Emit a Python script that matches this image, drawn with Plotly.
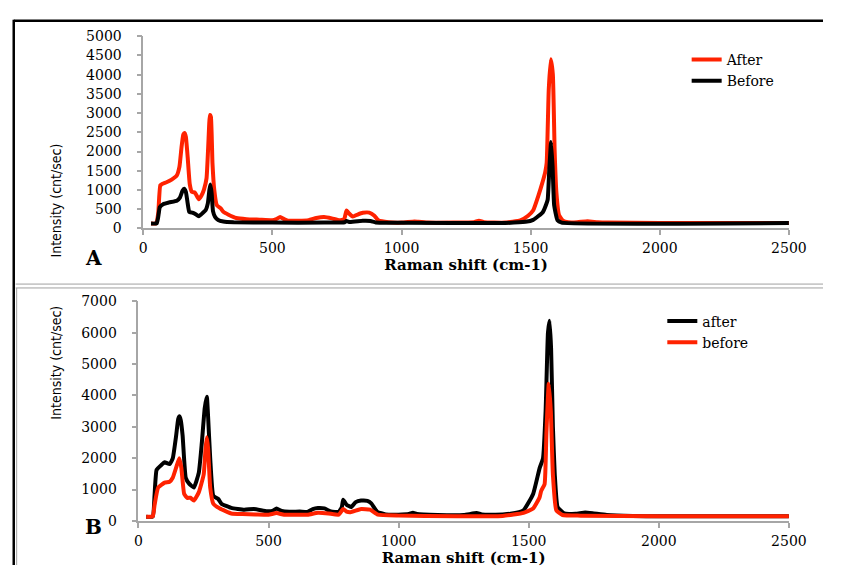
import plotly.graph_objects as go

# ---------------- Data ----------------
# Panel A
a_after_x = [30, 50, 58, 66, 75, 90, 110, 130, 140, 148, 155, 160, 165, 172, 180, 188, 200, 215, 225, 235, 245,
             252, 258, 262, 268, 275, 285, 300, 310, 330, 360, 400, 450, 500, 515, 530, 545, 560, 600, 640, 670,
             700, 730, 760, 778, 787, 795, 812, 830, 850, 875, 895, 910, 950, 1000, 1050, 1065, 1100, 1200, 1280,
             1300, 1320, 1400, 1460, 1490, 1510, 1530, 1547, 1556, 1562, 1570, 1578, 1586, 1593, 1600, 1610, 1625,
             1645, 1680, 1720, 1760, 1800, 2000, 2200, 2500]
a_after_y = [125, 130, 400, 1120, 1160, 1200, 1270, 1380, 1600, 2100, 2440, 2480, 2380, 1850, 1150, 950, 930, 760, 850,
             1010, 1300, 2200, 2950, 2900, 1700, 1000, 600, 520, 430, 355, 270, 240, 225, 210, 240, 295, 240, 200, 200,
             215, 270, 295, 260, 210, 240, 465, 400, 310, 360, 405, 410, 330, 210, 160, 150, 180, 170, 150, 150, 160,
             200, 160, 150, 210, 330, 470, 850, 1225, 1450, 1700, 3600, 4400, 4000, 2000, 900, 340, 200,
             160, 160, 185, 160, 150, 140, 140, 140]

a_before_x = [30, 52, 58, 64, 77, 100, 130, 142, 152, 158, 165, 172, 178, 190, 200, 215, 230, 242, 250, 256, 260, 265,
              270, 278, 290, 310, 350, 500, 700, 780, 787, 800, 850, 880, 900, 1000, 1400, 1480, 1510, 1530, 1547,
              1560, 1566, 1572, 1579, 1585, 1591, 1604, 1620, 2500]
a_before_y = [125, 130, 300, 550, 630, 675, 720, 800, 980, 1030, 950, 650, 430, 410, 380, 315, 400, 480, 650, 1000, 1140,
              900, 450, 300, 220, 180, 160, 150, 150, 160, 190, 165, 195, 190, 155, 145, 140, 170, 220, 320, 420,
              620, 750, 1500, 2250, 1600, 600, 210, 150, 140]

# Panel B
b_after_x = [30, 55, 62, 70, 89, 101, 120, 132, 145, 153, 158, 163, 170, 182, 195, 213, 232, 244, 255, 263, 268, 276,
             288, 307, 319, 357, 407, 444, 494, 515, 531, 550, 580, 620, 650, 670, 690, 715, 740, 770, 782, 787, 800,
             818, 835, 856, 880, 895, 918, 950, 1000, 1040, 1055, 1070, 1150, 1250, 1300, 1320, 1400, 1430, 1480,
             1517, 1542, 1555, 1565, 1574, 1580, 1586, 1593, 1600, 1611, 1636, 1680, 1717, 1750, 1800, 1900, 2000, 2500]
b_after_y = [135, 140, 800, 1630, 1790, 1870, 1810, 1995, 2715, 3250, 3335, 3200, 2715, 1375, 1190, 1065, 1530, 2510,
             3600, 3955, 3300, 1995, 805, 700, 550, 415, 360, 380, 310, 320, 395, 320, 290, 300, 290, 380, 415, 400,
             300, 290, 450, 680, 520, 445, 600, 650, 640, 560, 290, 210, 200, 220, 260, 220, 190, 190, 250, 210, 210,
             230, 340, 860, 1685, 1995, 3500, 6000, 6380, 5500, 3000, 1500, 445, 240, 230, 270, 240, 190, 160, 150, 150]

b_before_x = [30, 55, 62, 76, 101, 120, 132, 145, 157, 165, 176, 188, 200, 213, 232, 251, 258, 263, 268, 276, 288, 313,
              357, 400, 450, 500, 531, 560, 650, 690, 730, 770, 787, 800, 815, 856, 890, 920, 1000, 1100, 1400, 1480,
              1517, 1542, 1548, 1561, 1568, 1577, 1585, 1593, 1606, 1630, 1700, 2000, 2500]
b_before_y = [135, 140, 500, 1065, 1220, 1250, 1375, 1700, 1995, 1700, 860, 735, 740, 650, 910, 1480, 2300, 2665, 2300,
              1065, 550, 395, 240, 220, 210, 200, 250, 200, 200, 260, 240, 200, 380, 300, 280, 380, 360, 200, 170, 160,
              160, 260, 395, 755, 960, 1170, 2800, 4370, 3500, 1480, 340, 190, 170, 150, 150]

x_ticks = [0, 500, 1000, 1500, 2000, 2500]
a_y_ticks = [0, 500, 1000, 1500, 2000, 2500, 3000, 3500, 4000, 4500, 5000]
b_y_ticks = [0, 1000, 2000, 3000, 4000, 5000, 6000, 7000]

RED = "#FF2200"
BLACK = "#000000"
GRAY = "#A6A6A6"
W, H = 841, 573


def PX(x):
    return x / W


def PY(y):
    return 1 - y / H


fig = go.Figure()
LS = dict(shape="spline", smoothing=0.4, width=4)
fig.add_trace(go.Scatter(x=a_after_x, y=a_after_y, mode="lines", name="After",
                         line=dict(color=RED, **LS), xaxis="x", yaxis="y", legend="legend"))
fig.add_trace(go.Scatter(x=a_before_x, y=a_before_y, mode="lines", name="Before",
                         line=dict(color=BLACK, **LS), xaxis="x", yaxis="y", legend="legend"))
fig.add_trace(go.Scatter(x=b_after_x, y=b_after_y, mode="lines", name="after",
                         line=dict(color=BLACK, **LS), xaxis="x2", yaxis="y2", legend="legend2"))
fig.add_trace(go.Scatter(x=b_before_x, y=b_before_y, mode="lines", name="before",
                         line=dict(color=RED, **LS), xaxis="x2", yaxis="y2", legend="legend2"))

tickfont = dict(family="DejaVu Serif", size=14, color="#000000")
xtitle_font = dict(family="DejaVu Serif", size=15, color="#000000", weight="bold")
ytitle_font = dict(family="Liberation Sans Narrow, DejaVu Sans Condensed, Liberation Sans", size=14, color="#000000")


def xax(domain, anchor):
    return dict(domain=domain, anchor=anchor, range=[0, 2500], tickmode="array", tickvals=x_ticks,
                showline=True, linecolor=GRAY, linewidth=1.5, ticks="outside", ticklen=5, tickcolor=GRAY,
                tickwidth=1.5, showgrid=False, zeroline=False, tickfont=tickfont, ticklabelstandoff=1,
                title=dict(text="Raman shift (cm-1)", font=xtitle_font, standoff=5))


def yax(domain, anchor, rng, ticks):
    return dict(domain=domain, anchor=anchor, range=rng, tickmode="array", tickvals=ticks,
                showline=True, linecolor=GRAY, linewidth=1.5, ticks="outside", ticklen=5, tickcolor=GRAY,
                tickwidth=1.5, showgrid=False, zeroline=False, tickfont=tickfont, ticklabelstandoff=12)


fig.update_layout(
    width=W, height=H, margin=dict(l=0, r=0, t=0, b=0, pad=0),
    paper_bgcolor="white", plot_bgcolor="white",
    xaxis=xax([PX(143), PX(806)], "y"),
    yaxis=yax([PY(226.7), PY(29)], "x", [0, 5000], a_y_ticks),
    xaxis2=xax([PX(138), PX(806)], "y2"),
    yaxis2=yax([PY(527.7), PY(301.7)], "x2", [0, 7000], b_y_ticks),
    legend=dict(x=PX(701), y=PY(37), xanchor="left", yanchor="top", bgcolor="rgba(0,0,0,0)",
                font=dict(family="DejaVu Serif", size=14, color="#000000")),
    legend2=dict(x=PX(676), y=PY(306), xanchor="left", yanchor="top", bgcolor="rgba(0,0,0,0)",
                 font=dict(family="DejaVu Serif", size=14, color="#000000")),
    showlegend=True,
)

# y-axis titles
fig.add_annotation(x=PX(43), y=PY(137.5), xref="paper", yref="paper", text="Intensity (cnt/sec)",
                   textangle=-90, showarrow=False, font=ytitle_font)
fig.add_annotation(x=PX(43), y=PY(425.7), xref="paper", yref="paper", text="Intensity (cnt/sec)",
                   textangle=-90, showarrow=False, font=ytitle_font)

# panel letters
fig.add_annotation(x=PX(81), y=PY(257), xref="paper", yref="paper", text="<b>A</b>", showarrow=False,
                   font=dict(family="DejaVu Serif", size=20, color="#000000"))
fig.add_annotation(x=PX(81), y=PY(548), xref="paper", yref="paper", text="<b>B</b>", showarrow=False,
                   font=dict(family="DejaVu Serif", size=20, color="#000000"))

# frame lines
fig.add_shape(type="line", xref="paper", yref="paper", x0=PX(10), x1=1, y0=PY(13), y1=PY(13),
              line=dict(color="#000000", width=2.5))
fig.add_shape(type="line", xref="paper", yref="paper", x0=PX(10), x1=PX(10), y0=PY(12), y1=0,
              line=dict(color="#000000", width=2.5))
fig.add_shape(type="line", xref="paper", yref="paper", x0=PX(12), x1=1, y0=PY(284), y1=PY(284),
              line=dict(color="#A0A0A0", width=1))
fig.add_shape(type="line", xref="paper", yref="paper", x0=PX(12), x1=1, y0=PY(288), y1=PY(288),
              line=dict(color="#A0A0A0", width=1))
fig.add_shape(type="line", xref="paper", yref="paper", x0=PX(13), x1=PX(13), y0=PY(288), y1=0,
              line=dict(color="#A0A0A0", width=1))

fig.write_html("out.html")
